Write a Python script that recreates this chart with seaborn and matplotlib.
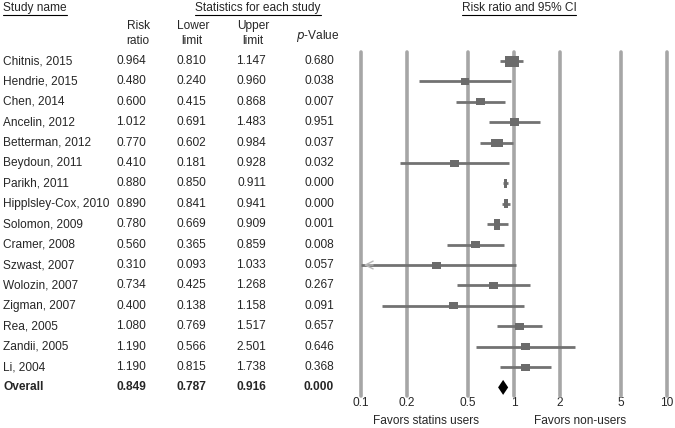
import matplotlib
matplotlib.use('Agg')
import matplotlib.pyplot as plt
import numpy as np
import seaborn as sns
from matplotlib.patches import Rectangle, Polygon

# Data
studies = ['Chitnis, 2015', 'Hendrie, 2015', 'Chen, 2014', 'Ancelin, 2012', 'Betterman, 2012',
           'Beydoun, 2011', 'Parikh, 2011', 'Hipplsley-Cox, 2010', 'Solomon, 2009', 'Cramer, 2008',
           'Szwast, 2007', 'Wolozin, 2007', 'Zigman, 2007', 'Rea, 2005', 'Zandii, 2005', 'Li, 2004']
risk_ratio = [0.964, 0.480, 0.600, 1.012, 0.770, 0.410, 0.880, 0.890, 0.780, 0.560,
              0.310, 0.734, 0.400, 1.080, 1.190, 1.190]
lower = [0.810, 0.240, 0.415, 0.691, 0.602, 0.181, 0.850, 0.841, 0.669, 0.365,
         0.093, 0.425, 0.138, 0.769, 0.566, 0.815]
upper = [1.147, 0.960, 0.868, 1.483, 0.984, 0.928, 0.911, 0.941, 0.909, 0.859,
         1.033, 1.268, 1.158, 1.517, 2.501, 1.738]
p_value = [0.680, 0.038, 0.007, 0.951, 0.037, 0.032, 0.000, 0.000, 0.001, 0.008,
           0.057, 0.267, 0.091, 0.657, 0.646, 0.368]
overall = {'rr': 0.849, 'lo': 0.787, 'hi': 0.916, 'p': 0.000}
ticks = [0.1, 0.2, 0.5, 1, 2, 5, 10]
tick_labels = ['0.1', '0.2', '0.5', '1', '2', '5', '10']

# box sizes in pixels (width, height) as drawn in the reference
box_w = [14, 8, 9, 9, 12, 9, 2.5, 4, 6, 9, 9, 9, 9, 9, 9, 9]
box_h = [11, 7, 7, 8, 8, 7, 9, 9, 11, 7, 7, 7, 7, 7, 7, 7]

sns.set_theme(style='white')
plt.rcParams['font.family'] = ['Liberation Sans', 'DejaVu Sans']

W, H = 675, 428
fig = plt.figure(figsize=(W / 100, H / 100), dpi=100)

# text layer in pixel coordinates
tax = fig.add_axes([0, 0, 1, 1])
tax.set_xlim(0, W)
tax.set_ylim(H, 0)
tax.axis('off')

row0, dy = 61, 20.4
fs = 8.6

def row_y(i):
    return row0 + dy * i

# headers (underlined)
hdrs = [(3, 'Study name', 'left'), (258, 'Statistics for each study', 'center'),
        (519, 'Risk ratio and 95% CI', 'center')]
hdr_texts = []
for x, s, ha in hdrs:
    hdr_texts.append(tax.text(x, 8, s, ha=ha, va='center', fontsize=fs))

tax.text(150, 26, 'Risk', ha='right', va='center', fontsize=fs)
tax.text(149, 41, 'ratio', ha='right', va='center', fontsize=fs)
tax.text(193, 26, 'Lower', ha='center', va='center', fontsize=fs)
tax.text(192, 41, 'limit', ha='center', va='center', fontsize=fs)
tax.text(253, 26, 'Upper', ha='center', va='center', fontsize=fs)
tax.text(253, 41, 'limit', ha='center', va='center', fontsize=fs)
tax.text(339, 36, '$\\it{p}$-Value', ha='right', va='center', fontsize=fs)

for i, name in enumerate(studies):
    y = row_y(i)
    tax.text(3, y, name, ha='left', va='center', fontsize=fs)
    tax.text(146, y, f'{risk_ratio[i]:.3f}', ha='right', va='center', fontsize=fs)
    tax.text(206, y, f'{lower[i]:.3f}', ha='right', va='center', fontsize=fs)
    tax.text(266, y, f'{upper[i]:.3f}', ha='right', va='center', fontsize=fs)
    tax.text(334, y, f'{p_value[i]:.3f}', ha='right', va='center', fontsize=fs)

yo = row_y(len(studies))
tax.text(3, yo, 'Overall', ha='left', va='center', fontsize=fs, fontweight='bold')
for x, v in [(146, overall['rr']), (206, overall['lo']), (266, overall['hi']), (334, overall['p'])]:
    tax.text(x, yo, f'{v:.3f}', ha='right', va='center', fontsize=fs, fontweight='bold')

tax.text(426, 421, 'Favors statins users', ha='center', va='center', fontsize=fs)
tax.text(580, 421, 'Favors non-users', ha='center', va='center', fontsize=fs)

# forest axes
x0, x1, ytop, ybot = 361, 667, 52, 396
ax = fig.add_axes([x0 / W, 1 - ybot / H, (x1 - x0) / W, (ybot - ytop) / H])
ax.patch.set_alpha(0)
ax.set_xscale('log')
ax.set_xlim(0.1, 10)
ax.set_ylim((ybot - row0) / dy, (ytop - row0) / dy)
for s in ax.spines.values():
    s.set_visible(False)
ax.set_yticks([])
ax.set_xticks(ticks)
ax.set_xticklabels(tick_labels, fontsize=fs)
ax.minorticks_off()
ax.tick_params(axis='x', length=0, pad=1)
for t in ticks:
    ax.axvline(t, color='#a6a6a6', lw=2.6, zorder=1, clip_on=False)

px_per_dec = (x1 - x0) / 2.0
ci_col = '#727272'
for i in range(len(studies)):
    lo = max(lower[i], 0.1)
    ax.plot([lo, upper[i]], [i, i], color=ci_col, lw=2, zorder=2, solid_capstyle='butt')
    if lower[i] < 0.1:
        ax.annotate('', xy=(0.1, i), xytext=(0.125, i),
                    arrowprops=dict(arrowstyle='->', color='#b8b8b8', lw=1,
                                    mutation_scale=14), zorder=3)
    f = 10 ** (box_w[i] / 2 / px_per_dec)
    hh = box_h[i] / dy
    ax.add_patch(Rectangle((risk_ratio[i] / f, i - hh / 2), risk_ratio[i] * f - risk_ratio[i] / f,
                           hh, color='#6b6b6b', zorder=3, lw=0))

n = len(studies)
dh = 7.5 / dy
ax.add_patch(Polygon([(overall['lo'], n), (overall['rr'], n - dh), (overall['hi'], n),
                      (overall['rr'], n + dh)], closed=True, color='black', zorder=4, lw=0))

# underline headers
fig.canvas.draw()
r = fig.canvas.get_renderer()
for t in hdr_texts:
    bb = t.get_window_extent(renderer=r)
    tax.plot([bb.x0, bb.x1], [15, 15], color='black', lw=0.8)

fig.savefig('out.png', dpi=100)
